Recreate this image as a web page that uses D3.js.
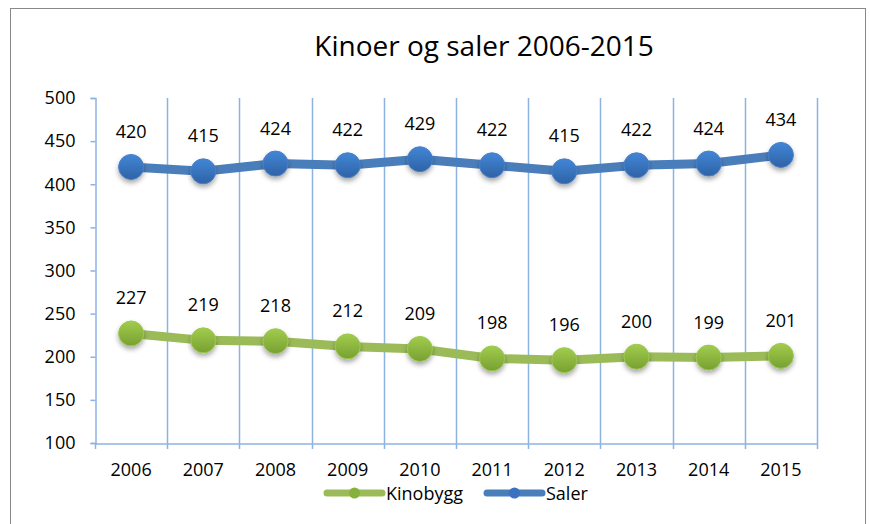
<!DOCTYPE html>
<html>
<head>
<meta charset="utf-8">
<script src="https://cdn.jsdelivr.net/npm/d3@7"></script>
<style>
  body { margin: 0; background: #fff; }
  svg { display: block; font-family: "Open Sans", "Liberation Sans", sans-serif; }
</style>
</head>
<body>
<div id="chart"></div>
<script>
const years = ['2006', '2007', '2008', '2009', '2010', '2011', '2012', '2013', '2014', '2015'];
const kinobygg = [227, 219, 218, 212, 209, 198, 196, 200, 199, 201];
const saler = [420, 415, 424, 422, 429, 422, 415, 422, 424, 434];
const yTicks = [100, 150, 200, 250, 300, 350, 400, 450, 500];

const W = 870, H = 524;
const svg = d3.select('#chart').append('svg').attr('width', W).attr('height', H);

// gradients + shadow for markers
const defs = svg.append('defs');
function grad(id, top, bottom) {
  const g = defs.append('linearGradient').attr('id', id)
    .attr('x1', 0).attr('y1', 0).attr('x2', 0).attr('y2', 1);
  g.append('stop').attr('offset', '0%').attr('stop-color', top);
  g.append('stop').attr('offset', '100%').attr('stop-color', bottom);
}
grad('gBlue', '#4286d6', '#2f62a6');
grad('gGreen', '#a2cc4c', '#77a032');
const f = defs.append('filter').attr('id', 'shadow')
  .attr('x', '-50%').attr('y', '-50%').attr('width', '200%').attr('height', '200%');
f.append('feDropShadow').attr('dx', 0).attr('dy', 3).attr('stdDeviation', 2.5)
  .attr('flood-color', '#000').attr('flood-opacity', 0.35);

// outer frame
svg.append('rect').attr('x', 10.5).attr('y', 8.5).attr('width', 855).attr('height', 540)
  .attr('fill', 'none').attr('stroke', '#888').attr('stroke-width', 1);

const x = d3.scaleBand().domain(years).range([95, 817]);
const y = d3.scaleLinear().domain([100, 500]).range([443, 98]);
const grid = '#8db3e2';

// vertical gridlines at category boundaries
svg.append('g').selectAll('line')
  .data(years)
  .enter().append('line')
  .attr('x1', d => Math.round(x(d) + x.bandwidth()) + 0.5)
  .attr('x2', d => Math.round(x(d) + x.bandwidth()) + 0.5)
  .attr('y1', y(500)).attr('y2', y(100) + 6)
  .attr('stroke', grid).attr('stroke-width', 1.5);

// y axis
const yAxis = svg.append('g').attr('transform', 'translate(95.5,0)')
  .call(d3.axisLeft(y).tickValues(yTicks).tickSize(5).tickPadding(15));
yAxis.select('.domain').attr('stroke', grid).attr('stroke-width', 1.5);
yAxis.selectAll('.tick line').attr('stroke', grid).attr('stroke-width', 1.5);
yAxis.selectAll('text').attr('font-size', 18).attr('fill', '#000')
  .attr('font-family', '"Open Sans", sans-serif');

// x axis
const xAxis = svg.append('g').attr('transform', `translate(0,${y(100) + 0.5})`)
  .call(d3.axisBottom(x).tickSize(0).tickPadding(20));
xAxis.select('.domain').attr('stroke', grid).attr('stroke-width', 1.5);
xAxis.selectAll('text').attr('font-size', 18).attr('fill', '#000')
  .attr('font-family', '"Open Sans", sans-serif');
svg.append('line').attr('x1', 95.5).attr('x2', 95.5)
  .attr('y1', y(100)).attr('y2', y(100) + 6).attr('stroke', grid).attr('stroke-width', 1.5);

// title
svg.append('text').attr('x', 484).attr('y', 56).attr('text-anchor', 'middle')
  .attr('font-size', 28).attr('fill', '#000').text('Kinoer og saler 2006-2015');

const series = [
  { name: 'Kinobygg', values: kinobygg, line: '#9bbb59', fill: 'url(#gGreen)', edge: '#9bc850' },
  { name: 'Saler', values: saler, line: '#4a7ebb', fill: 'url(#gBlue)', edge: '#4680c8' }
];
const cx = d => x(d) + x.bandwidth() / 2;
const lineGen = d3.line().x((d, i) => cx(years[i])).y(d => y(d));

series.forEach(s => {
  const g = svg.append('g');
  g.append('path').datum(s.values).attr('d', lineGen)
    .attr('fill', 'none').attr('stroke', s.line).attr('stroke-width', 9)
    .attr('stroke-linejoin', 'round');
  g.selectAll('circle').data(s.values).enter().append('circle')
    .attr('cx', (d, i) => cx(years[i])).attr('cy', d => y(d)).attr('r', 12.5)
    .attr('fill', s.fill).attr('stroke', s.edge).attr('stroke-width', 1)
    .attr('filter', 'url(#shadow)');
  g.selectAll('text').data(s.values).enter().append('text')
    .attr('x', (d, i) => cx(years[i])).attr('y', d => y(d) - 29)
    .attr('text-anchor', 'middle').attr('font-size', 18).attr('fill', '#000')
    .text(d => d);
});

// legend
const legend = [
  { name: 'Kinobygg', x0: 325, color: '#9bbb59', dot: '#86b13e' },
  { name: 'Saler', x0: 485, color: '#4a7ebb', dot: '#3a72c0' }
];
const lg = svg.append('g').selectAll('g').data(legend).enter().append('g')
  .attr('transform', d => `translate(${d.x0},493)`);
lg.append('line').attr('x1', 2).attr('x2', 57).attr('y1', 0).attr('y2', 0)
  .attr('stroke', d => d.color).attr('stroke-width', 7).attr('stroke-linecap', 'round');
lg.append('circle').attr('cx', 29.5).attr('cy', 0).attr('r', 5.5).attr('fill', d => d.dot);
lg.append('text').attr('x', 61).attr('y', 6.5).attr('font-size', 18).attr('fill', '#000')
  .text(d => d.name);
</script>
</body>
</html>
